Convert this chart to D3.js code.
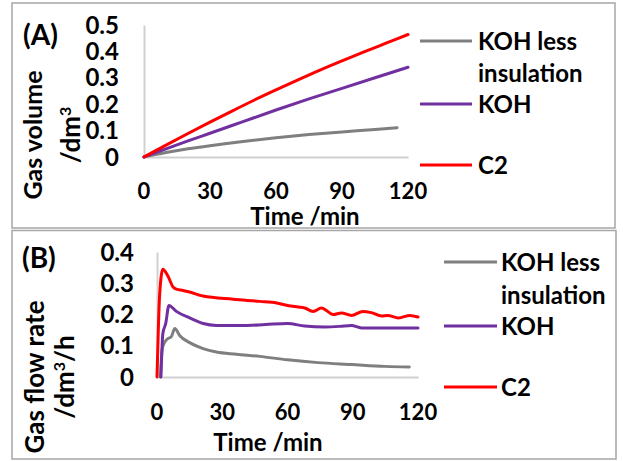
<!DOCTYPE html>
<html>
<head>
<meta charset="utf-8">
<script src="https://cdn.jsdelivr.net/npm/d3@7"></script>
<style>
  html, body { margin: 0; padding: 0; background: #fff; }
  svg { display: block; }
  text { font-family: Lato, "Open Sans", sans-serif; font-weight: bold; fill: #000; }
</style>
</head>
<body>
<svg id="chart" width="623" height="461"></svg>
<script>
// ---- Data ----------------------------------------------------------------
const seriesNames = ["KOH less insulation", "KOH", "C2"];
const seriesColors = ["#7f7f7f", "#7030a0", "#ff0000"];

// Panel A: cumulative gas volume [time (min), volume (dm3)]
const volumeKOHLess = [[0,0],[5,0.009],[10,0.017],[20,0.031],[30,0.043],[45,0.059],[60,0.073],[75,0.085],[90,0.095],[105,0.104],[115,0.111]];
const volumeKOH = [[0,0],[10,0.031],[20,0.061],[30,0.09],[45,0.134],[60,0.178],[75,0.22],[90,0.26],[105,0.3],[120,0.34]];
const volumeC2 = [[0,0],[10,0.045],[20,0.089],[30,0.132],[40,0.174],[50,0.215],[60,0.254],[70,0.292],[80,0.329],[90,0.364],[100,0.398],[110,0.431],[120,0.464]];

// Panel B: gas flow rate [time (min), rate (dm3/h)]
const rateKOHLess = [[1.6,0],[2.4,0.09],[3.6,0.112],[5,0.123],[6.5,0.128],[8.2,0.155],[10.4,0.133],[15,0.11],[21.2,0.091],[27.3,0.08],[36.5,0.073],[47.2,0.066],[60,0.055],[74,0.046],[89.4,0.04],[104.8,0.034],[116,0.032]];
const rateKOH = [[1.8,0],[2.7,0.139],[4,0.171],[5.5,0.229],[8.9,0.21],[15,0.189],[21.2,0.171],[27.3,0.165],[40,0.165],[50,0.168],[60,0.171],[67.9,0.163],[77.1,0.16],[84,0.162],[89.4,0.165],[94,0.157],[105,0.157],[120,0.157]];
const rateC2 = [[0,0],[0.6,0.15],[1.2,0.261],[2.7,0.345],[5,0.323],[7.4,0.288],[8.9,0.281],[12,0.277],[15,0.272],[21.2,0.259],[35,0.249],[47.2,0.242],[55,0.237],[60,0.229],[64.9,0.224],[67.9,0.221],[71.8,0.21],[75.6,0.221],[81,0.2],[84.8,0.205],[89.4,0.197],[94.7,0.21],[98.5,0.206],[103.3,0.195],[106,0.197],[111,0.189],[116.3,0.197],[120,0.192]];

const timeTicks = [0, 30, 60, 90, 120];
const volumeTicks = [0, 0.1, 0.2, 0.3, 0.4, 0.5];
const rateTicks = [0, 0.1, 0.2, 0.3, 0.4];

// ---- Drawing -------------------------------------------------------------
const svg = d3.select("#chart");
const FS = 24;       // titles and legend
const TICK_FS = 22;  // tick labels

function drawPanel(p) {
  const g = svg.append("g");

  // panel frame
  g.append("rect")
    .attr("x", p.frame[0]).attr("y", p.frame[1])
    .attr("width", p.frame[2]).attr("height", p.frame[3])
    .attr("fill", "none").attr("stroke", "#a6a6a6").attr("stroke-width", 1.5);

  const x = d3.scaleLinear().domain([0, 120]).range([p.x0, p.x1]);
  const y = d3.scaleLinear().domain([0, p.yMax]).range([p.y0, p.y1]);

  // axes (line only; labels placed separately)
  const xAxis = g.append("g").attr("transform", `translate(0,${p.y0})`)
    .call(d3.axisBottom(x).tickValues(timeTicks).tickSize(0).tickFormat(""));
  const yAxis = g.append("g").attr("transform", `translate(${p.x0},0)`)
    .call(d3.axisLeft(y).tickValues(p.yTicks).tickSize(0).tickFormat(""));
  [xAxis, yAxis].forEach(a => {
    a.select(".domain").attr("stroke", "#d0d0d0").attr("stroke-width", 2);
  });

  // tick labels
  g.selectAll(".ytl").data(p.yTicks).enter().append("text")
    .attr("x", p.yLabelX).attr("y", d => y(d))
    .attr("dy", "0.36em").attr("text-anchor", "end")
    .attr("font-size", FS)
    .text(d => d === 0 ? "0" : d3.format(".1f")(d));
  g.selectAll(".xtl").data(timeTicks).enter().append("text")
    .attr("x", d => x(d)).attr("y", p.xLabelY)
    .attr("dy", "0.36em").attr("text-anchor", "middle")
    .attr("font-size", TICK_FS)
    .text(d => d);

  // axis titles
  g.append("text").attr("x", p.xTitle[0]).attr("y", p.xTitle[1])
    .attr("dy", "0.36em").attr("text-anchor", "middle").attr("font-size", FS)
    .text("Time /min");

  p.yTitles.forEach(t => {
    const tx = g.append("text")
      .attr("transform", `translate(${t.x},${t.y}) rotate(-90)`)
      .attr("dy", "0.36em").attr("text-anchor", "middle").attr("font-size", t.size);
    t.parts.forEach(part => {
      const s = tx.append("tspan").text(part.text);
      if (part.sup) s.attr("font-size", Math.round(t.size * 0.62)).attr("baseline-shift", "super");
    });
  });

  // panel tag
  g.append("text").attr("x", p.tag[0]).attr("y", p.tag[1])
    .attr("dy", "0.36em").attr("font-size", 28).text(p.tagText);

  // series lines
  const line = d3.line().x(d => x(d[0])).y(d => y(d[1])).curve(d3.curveMonotoneX);
  p.series.forEach((s, i) => {
    g.append("path").datum(s)
      .attr("fill", "none").attr("stroke", seriesColors[i])
      .attr("stroke-width", 3).attr("stroke-linejoin", "round")
      .attr("stroke-linecap", "round")
      .attr("d", line);
  });

  // legend
  const L = p.legend;
  seriesNames.forEach((name, i) => {
    g.append("line")
      .attr("x1", L.x0).attr("x2", L.x1).attr("y1", L.rows[i]).attr("y2", L.rows[i])
      .attr("stroke", seriesColors[i]).attr("stroke-width", 3);
  });
  const labelLines = [["KOH less", L.rows[0]], ["insulation", L.rows[0] + L.wrap], ["KOH", L.rows[1]], ["C2", L.rows[2]]];
  labelLines.forEach(([t, yy]) => {
    g.append("text").attr("x", L.tx).attr("y", yy)
      .attr("dy", "0.36em").attr("font-size", FS).text(t);
  });
}

drawPanel({
  frame: [12, 3, 603, 225],
  x0: 144, x1: 408, y0: 157, y1: 25, yMax: 0.5, yTicks: volumeTicks,
  yLabelX: 119, xLabelY: 191, xTitle: [305, 216],
  yTitles: [
    { x: 33, y: 135, size: 25, parts: [{ text: "Gas volume" }] },
    { x: 71, y: 135, size: 26, parts: [{ text: "/dm" }, { text: "3", sup: true }] }
  ],
  tag: [23, 35], tagText: "(A)",
  series: [volumeKOHLess, volumeKOH, volumeC2],
  legend: { x0: 420, x1: 472, tx: 478, rows: [41, 104, 165], wrap: 32 }
});

drawPanel({
  frame: [12, 230.5, 604, 228.5],
  x0: 157, x1: 418, y0: 377, y1: 252, yMax: 0.4, yTicks: rateTicks,
  yLabelX: 134, xLabelY: 412, xTitle: [268, 442],
  yTitles: [
    { x: 35, y: 377, size: 26, parts: [{ text: "Gas flow rate" }] },
    { x: 65, y: 377, size: 26, parts: [{ text: "/dm" }, { text: "3", sup: true }, { text: "/h" }] }
  ],
  tag: [22, 258], tagText: "(B)",
  series: [rateKOHLess, rateKOH, rateC2],
  legend: { x0: 444, x1: 497, tx: 501, rows: [262, 326, 387], wrap: 33 }
});
</script>
</body>
</html>
